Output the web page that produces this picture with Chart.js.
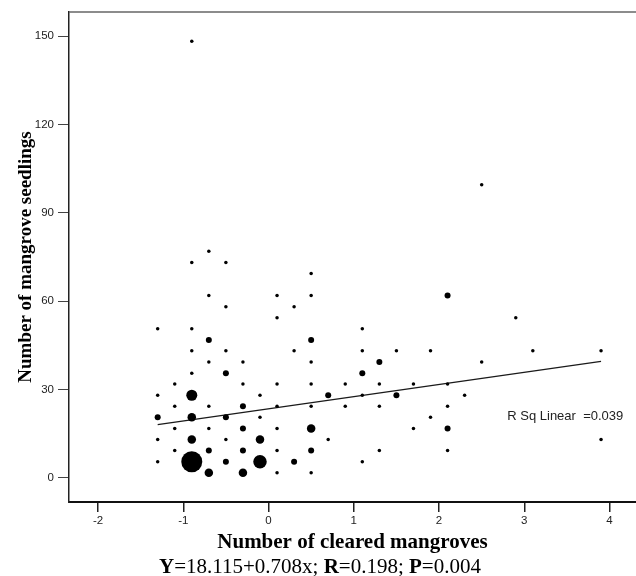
<!DOCTYPE html>
<html>
<head>
<meta charset="utf-8">
<script src="https://cdn.jsdelivr.net/npm/chart.js@4"></script>
<style>
  body { margin: 0; background: #fff; }
  #wrap { position: relative; width: 636px; height: 576px; }
  #eq { position: absolute; left: 159px; top: 554px; white-space: nowrap;
        font: 21px "Liberation Serif", "Times New Roman", serif; color: #000; line-height: 24px; }
</style>
</head>
<body>
<div id="wrap">
  <canvas id="scatter" width="636" height="576"></canvas>
  <div id="eq"><b>Y</b>=18.115+0.708x; <b>R</b>=0.198; <b>P</b>=0.004</div>
</div>
<script>
// cleared mangroves (x), seedlings (y), and how many cases sit on each spot
const clearedX = [
  -0.9, 2.5, -0.7, -0.9, -0.5, 0.5, -0.7, 0.1, 0.5, 2.1,
  -0.5, 0.3, 0.1, 2.9, -1.3, -0.9, 1.1, -0.7, 0.5,
  -0.9, -0.5, 0.3, 1.1, 1.5, 1.9, 3.1, 3.9,
  -0.7, -0.3, 0.5, 1.3, 2.5,
  -0.9, -0.5, 1.1,
  -1.1, -0.3, 0.1, 0.5, 0.9, 1.3, 1.7, 2.1,
  -1.3, -0.9, -0.1, 0.7, 1.1, 1.5, 2.3,
  -1.1, -0.7, -0.3, 0.1, 0.5, 0.9, 1.3, 2.1,
  -1.3, -0.9, -0.5, -0.1, 1.9,
  -1.1, -0.7, -0.3, 0.1, 0.5, 1.7, 2.1,
  -1.3, -0.9, -0.5, -0.1, 0.7, 3.9,
  -1.1, -0.7, -0.3, 0.1, 0.5, 1.3, 2.1,
  -1.3, -0.9, -0.5, -0.1, 0.3, 1.1,
  -0.7, -0.3, 0.1, 0.5
];
const seedlingsY = [
  148.3, 99.5, 76.9, 73.1, 73.1, 69.4, 61.9, 61.9, 61.9, 61.9,
  58.1, 58.1, 54.3, 54.3, 50.6, 50.6, 50.6, 46.8, 46.8,
  43.1, 43.1, 43.1, 43.1, 43.1, 43.1, 43.1, 43.1,
  39.3, 39.3, 39.3, 39.3, 39.3,
  35.5, 35.5, 35.5,
  31.8, 31.8, 31.8, 31.8, 31.8, 31.8, 31.8, 31.8,
  28.0, 28.0, 28.0, 28.0, 28.0, 28.0, 28.0,
  24.3, 24.3, 24.3, 24.3, 24.3, 24.3, 24.3, 24.3,
  20.5, 20.5, 20.5, 20.5, 20.5,
  16.7, 16.7, 16.7, 16.7, 16.7, 16.7, 16.7,
  13.0, 13.0, 13.0, 13.0, 13.0, 13.0,
  9.2, 9.2, 9.2, 9.2, 9.2, 9.2, 9.2,
  5.4, 5.4, 5.4, 5.4, 5.4, 5.4,
  1.7, 1.7, 1.7, 1.7
];
const pointCounts = [
  1, 1, 1, 1, 1, 1, 1, 1, 1, 2,
  1, 1, 1, 1, 1, 1, 1, 2, 2,
  1, 1, 1, 1, 1, 1, 1, 1,
  1, 1, 1, 2, 1,
  1, 2, 2,
  1, 1, 1, 1, 1, 1, 1, 1,
  1, 4, 1, 2, 1, 2, 1,
  1, 1, 2, 1, 1, 1, 1, 1,
  2, 3, 2, 1, 1,
  1, 1, 2, 1, 3, 1, 2,
  1, 3, 1, 3, 1, 1,
  1, 2, 2, 1, 2, 1, 1,
  1, 8, 2, 5, 2, 1,
  3, 3, 1, 1
];

// fitted line end points
const fitX = [-1.3, 3.9];
const fitY = [18.0, 39.5];

const xTicks = [-2, -1, 0, 1, 2, 3, 4];
const yTicks = [0, 30, 60, 90, 120, 150];

const rSqText = 'R Sq Linear  =0.039';

const points = clearedX.map((x, i) => ({ x: x, y: seedlingsY[i] }));
const fitLine = fitX.map((x, i) => ({ x: x, y: fitY[i] }));

function dotRadius(n) {
  return 0.5 + 1.25 * n;
}

const frameAndLabel = {
  id: 'frameAndLabel',
  afterDraw(chart) {
    const c = chart.ctx;
    const a = chart.chartArea;
    c.save();
    c.strokeStyle = '#666';
    c.lineWidth = 1.5;
    c.beginPath();
    c.moveTo(a.left, a.top);
    c.lineTo(a.right, a.top);
    c.stroke();

    c.fillStyle = '#222';
    c.font = '13px "Liberation Sans", Arial, sans-serif';
    c.textAlign = 'left';
    c.textBaseline = 'middle';
    c.fillText(rSqText, chart.scales.x.getPixelForValue(2.8), chart.scales.y.getPixelForValue(20.8));
    c.restore();
  }
};

const tickFont = { family: '"Liberation Sans", Arial, sans-serif', size: 11.5 };

new Chart(document.getElementById('scatter'), {
  type: 'scatter',
  data: {
    datasets: [{
      data: points,
      backgroundColor: '#000',
      borderWidth: 0,
      pointRadius: ctx => dotRadius(pointCounts[ctx.dataIndex]),
      pointHoverRadius: ctx => dotRadius(pointCounts[ctx.dataIndex])
    }, {
      data: fitLine,
      showLine: true,
      borderColor: '#1a1a1a',
      borderWidth: 1.4,
      pointRadius: 0
    }]
  },
  options: {
    responsive: false,
    animation: false,
    layout: { autoPadding: false, padding: { top: 12, left: 0, right: 0, bottom: 0 } },
    plugins: { legend: { display: false }, tooltip: { enabled: false } },
    scales: {
      x: {
        min: -2.34,
        max: 4.31,
        afterBuildTicks: s => { s.ticks = xTicks.map(v => ({ value: v })); },
        afterFit: s => { s.height = 74; },
        ticks: { color: '#222', font: tickFont, padding: 2, maxRotation: 0 },
        grid: { drawOnChartArea: false, tickLength: 10, color: '#222', lineWidth: 1.5 },
        border: { display: true, color: '#111', width: 2 },
        title: {
          display: true,
          text: 'Number of cleared mangroves',
          color: '#000',
          font: { family: '"Liberation Serif", "Times New Roman", serif', size: 21, weight: 'bold' },
          padding: { top: 0, bottom: 21 }
        }
      },
      y: {
        min: -8.27,
        max: 158.2,
        afterBuildTicks: s => { s.ticks = yTicks.map(v => ({ value: v })); },
        afterFit: s => { s.width = 69; },
        ticks: { color: '#222', font: tickFont, padding: 4 },
        grid: { drawOnChartArea: false, tickLength: 11, color: '#444', lineWidth: 1 },
        border: { display: true, color: '#222', width: 1.5 },
        title: {
          display: true,
          text: 'Number of mangrove seedlings',
          color: '#000',
          font: { family: '"Liberation Serif", "Times New Roman", serif', size: 19, weight: 'bold' },
          padding: { top: 15, bottom: 0 }
        }
      }
    }
  },
  plugins: [frameAndLabel]
});
</script>
</body>
</html>
